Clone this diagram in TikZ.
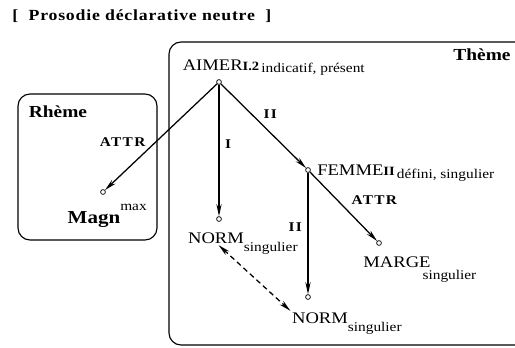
\documentclass[tikz,border=0pt]{standalone}
\usepackage{fontspec}
\setmainfont[FakeStretch=1.15]{Liberation Serif}
\usetikzlibrary{arrows.meta,positioning}
\newcommand{\sous}[2]{\rlap{\raisebox{#1}[0pt][0pt]{\fontsize{9.5}{11}\selectfont #2}}}
\newcommand{\petitgras}[1]{{\bfseries\fontsize{9}{10}\selectfont #1}}

\begin{document}
\begin{tikzpicture}[
    x=0.25mm, y=-0.25mm,
    every node/.style={font=\fontsize{11.5}{13}\selectfont},
    vertex/.style={circle, draw, line width=0.5pt, inner sep=0pt, minimum size=1.2mm},
    word/.style={inner sep=1pt},
    rel/.style={inner sep=1pt, font=\bfseries\fontsize{9.5}{11}\selectfont\addfontfeature{LetterSpace=10}},
    arc/.style={-{Stealth[length=3mm, width=1.3mm]}, line width=0.9pt},
    zone/.style={draw, rounded corners=3mm, line width=0.8pt},
    zonetitle/.style={word, font=\bfseries\fontsize{12}{14}\selectfont}
]
\useasboundingbox (0,0) rectangle (515,347);

% title
\node[anchor=west, inner sep=0pt, font=\bfseries\fontsize{11}{13}\selectfont\addfontfeature{LetterSpace=5}]
    (titre) at (12,16) {[\ \ Prosodie déclarative neutre\ \ ]};

% zones
\draw[zone] (18,94) rectangle (157,240);
\draw[zone] (515,42) -- (169,42) -- (169,345) -- (515,345);
\node[zonetitle] (rheme) at (58,112) {Rhème};
\node[zonetitle] (theme) at (482,55) {Thème};

% vertices
\node[vertex] (aimer) at (219,82) {};
\node[vertex] (magn)  at (103,192) {};
\node[vertex] (norma) at (219,219) {};
\node[vertex] (femme) at (308,170) {};
\node[vertex] (normb) at (308,297) {};
\node[vertex] (marge) at (379,243) {};

% words
\node[word] (aimertxt) at (221,65) {AIMER\petitgras{I.2}\sous{-1.5pt}{\,indicatif, présent}};
\node[word] (femmetxt) at (356,170) {FEMME\petitgras{II}\sous{-2pt}{\,défini, singulier}};
\node[word] (normtxta) at (216,238) {NORM\sous{-5.5pt}{singulier}};
\node[word] (normtxtb) at (320,318) {NORM\sous{-5.5pt}{singulier}};
\node[word] (margetxt) at (397,262) {MARGE\sous{-9pt}{\hspace{-2mm}singulier}};
\node[word, font=\bfseries\fontsize{13}{15}\selectfont] (magntxt) at (94,216)
    {Magn\rlap{\raisebox{9pt}{\mdseries\fontsize{9.5}{11}\selectfont max}}};

% dependencies
\draw[arc] (aimer) -- (magn) node[rel, pos=0.55, left=2mm] {ATTR};
\draw[arc] (aimer) -- (norma) node[rel, pos=0.45, right=1mm] {I};
\draw[arc] (aimer) -- (femme) node[rel, pos=0.43, above right=0mm and 1mm] {II};
\draw[arc] (femme) -- (normb) node[rel, pos=0.45, left=1mm] {II};
\draw[arc] (femme) -- (marge) node[rel, pos=0.41, right=3mm] {ATTR};

% coreference
\draw[{Stealth[length=3mm, width=1.3mm]}-{Stealth[length=3mm, width=1.3mm]}, line width=0.9pt,
    dash pattern=on 1.3mm off 0.9mm] (normtxta.-70) -- (normtxtb.north west);

\end{tikzpicture}
\end{document}
